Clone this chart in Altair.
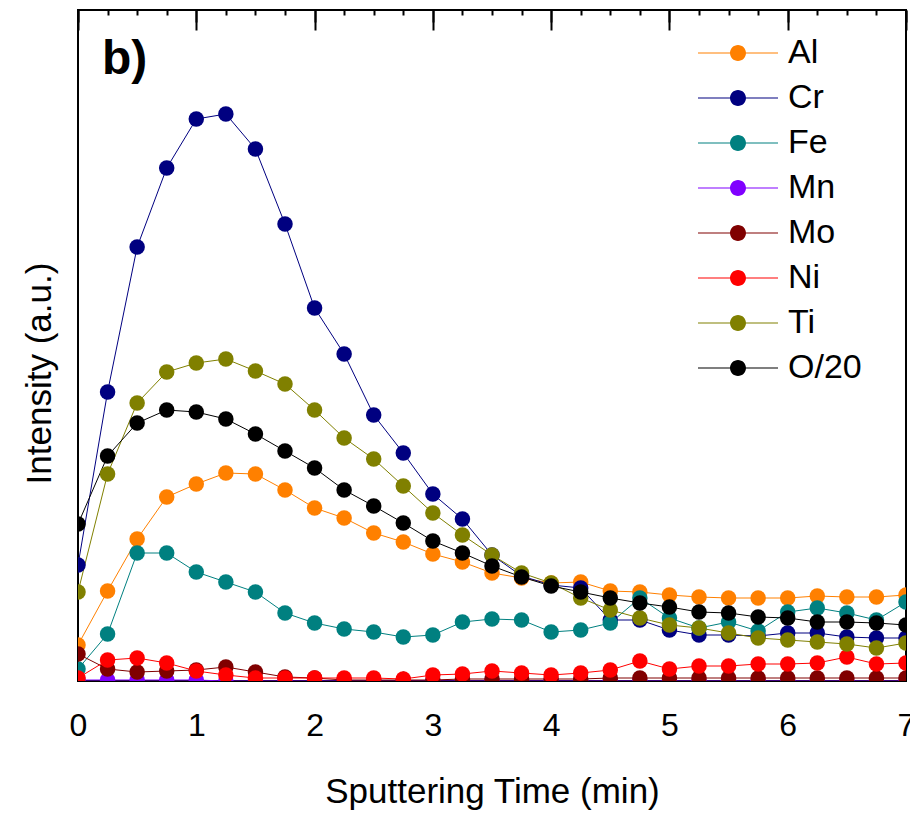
import altair as alt
import pandas as pd

# ---- data ----
time_min = [0, 0.25, 0.5, 0.75, 1, 1.25, 1.5, 1.75, 2, 2.25, 2.5, 2.75, 3, 3.25,
            3.5, 3.75, 4, 4.25, 4.5, 4.75, 5, 5.25, 5.5, 5.75, 6, 6.25, 6.5, 6.75, 7]

elements = ["Al", "Cr", "Fe", "Mn", "Mo", "Ni", "Ti", "O/20"]
colors = ["#FF8000", "#000080", "#008080", "#8000FF", "#800000", "#FF0000", "#808000", "#000000"]

al = [36, 90, 142, 184, 197, 208, 207, 191, 173, 163, 148, 139, 127, 119, 108,
      103, 98, 99, 90, 89, 86, 84, 83, 83, 83, 85, 84, 84, 86]
cr = [116, 289, 434, 513, 562, 567, 532, 457, 373, 327, 266, 228, 187, 162, 126,
      105, 96, 93, 61, 61, 51, 46, 46, 45, 48, 48, 44, 43, 43]
fe = [12, 47, 128, 128, 109, 99, 89, 68, 58, 52, 49, 44, 46, 59, 62,
      61, 49, 51, 58, 83, 63, 53, 59, 50, 69, 73, 68, 61, 79]
mn = [1, 1, 1, 1, 1, 0, 0, 0, 0, 0, 0, 0, 0, 0, 0,
      0, 0, 0, 0, 0, 0, 0, 0, 0, 0, 0, 0, 0, 0]
mo = [27, 12, 9, 10, 11, 14, 9, 4, 3, 1, 1, 1, 1, 2, 2,
      2, 2, 2, 3, 3, 3, 3, 3, 3, 3, 3, 3, 3, 3]
ni = [3, 21, 23, 18, 10, 6, 3, 3, 3, 3, 3, 2, 6, 7, 10,
      8, 6, 8, 11, 20, 12, 15, 15, 17, 17, 18, 24, 17, 18]
ti = [89, 207, 278, 309, 318, 322, 310, 297, 271, 243, 222, 195, 168, 146, 126,
      108, 98, 83, 71, 63, 56, 53, 48, 43, 41, 39, 37, 33, 38]
o20 = [157, 225, 258, 271, 269, 262, 247, 230, 213, 191, 175, 158, 140, 128, 115,
       104, 95, 89, 83, 78, 74, 69, 68, 64, 63, 59, 59, 58, 56]

major_ticks = [0, 1, 2, 3, 4, 5, 6, 7]
minor_ticks = [0.25, 0.5, 0.75, 1.25, 1.5, 1.75, 2.25, 2.5, 2.75, 3.25, 3.5, 3.75,
               4.25, 4.5, 4.75, 5.25, 5.5, 5.75, 6.25, 6.5, 6.75]

panel_label = ["b)"]

series = {"Al": al, "Cr": cr, "Fe": fe, "Mn": mn, "Mo": mo, "Ni": ni, "Ti": ti, "O/20": o20}
rows = []
for k, name in enumerate(elements):
    for t, v in zip(time_min, series[name]):
        rows.append({"Time": t, "Intensity": v, "Element": name, "Order": k})
df = pd.DataFrame(rows)

FONT = "Liberation Sans"

xs = alt.Scale(domain=[0, 7], nice=False, zero=False)
ys = alt.Scale(domain=[0, 671], nice=False, zero=False)

y_enc = alt.Y(
    "Intensity:Q", scale=ys,
    axis=alt.Axis(title="Intensity (a.u.)", labels=False, ticks=False, domain=False, grid=False,
                  titleFontSize=35, titleFontWeight="normal", titleFont=FONT, titleColor="black",
                  titleX=-28, titleY=363, titleBaseline="alphabetic"),
)

legend_symbol = "M-5,-0.07H5V0.07H-5Z M1,0A1,1 0 1,1 -1,0A1,1 0 1,1 1,0Z"

legend = alt.Legend(title=None, orient="none", legendX=643, legendY=26, padding=0,
                    symbolType=legend_symbol, symbolSize=256, symbolStrokeWidth=0,
                    labelFontSize=34, labelFont=FONT, labelColor="black", labelOffset=33,
                    rowPadding=11)
color_scale = alt.Scale(domain=elements, range=colors)

color_pts = alt.Color("Element:N", scale=color_scale, sort=elements, legend=legend)
color_lines = alt.Color("Element:N", scale=color_scale, sort=elements, legend=legend)

base = alt.Chart(df)

lines = base.mark_line(strokeWidth=1, clip=True).encode(
    x=alt.X("Time:Q", scale=xs,
            axis=alt.Axis(title="Sputtering Time (min)", values=major_ticks, format="d",
                          ticks=False, tickSize=0, domain=False, grid=False,
                          labelFontSize=32, labelFont=FONT, labelColor="black",
                          labelFlush=False, labelOverlap=False,
                          labelBaseline="alphabetic", labelPadding=54,
                          titleFontSize=35, titleFontWeight="normal", titleFont=FONT,
                          titleColor="black", titleY=121, titleBaseline="alphabetic")),
    y=y_enc,
    color=color_lines,
    detail="Element:N",
)

points = base.mark_circle(size=240, opacity=1, clip=True).encode(
    x=alt.X("Time:Q", scale=xs,
            axis=alt.Axis(title=None, values=major_ticks, labels=False, domain=False, grid=False,
                          ticks=True, tickSize=20, tickWidth=2, tickColor="black", offset=-20)),
    y=y_enc,
    color=color_pts,
    order=alt.Order("Order:Q"),
)

def tick_layer(values, size, orient):
    return base.mark_point(opacity=0).encode(
        x=alt.X("Time:Q", scale=xs,
                axis=alt.Axis(title=None, values=values, labels=False, domain=False, grid=False,
                              ticks=True, tickSize=size, tickWidth=2, tickColor="black",
                              offset=-size, orient=orient)),
        y=y_enc,
    )

label_layer = alt.Chart(pd.DataFrame({"label": panel_label})).mark_text(
    fontSize=48, fontWeight="bold", font=FONT, color="black", align="left",
    baseline="alphabetic"
).encode(text="label:N", x=alt.value(24), y=alt.value(64))

chart = alt.layer(
    lines,
    points,
    tick_layer(minor_ticks, 10, "bottom"),
    tick_layer(major_ticks, 12, "top"),
    tick_layer(minor_ticks, 5, "top"),
    label_layer,
).resolve_axis(x="independent").properties(
    width=828,
    height=671,
    autosize=alt.AutoSizeParams(type="none"),
    padding={"left": 78, "top": 10, "right": 4, "bottom": 133},
).configure(
    font=FONT, background="white"
).configure_view(
    stroke="black", strokeWidth=2
)

chart.save("out.html", embed_options={"renderer": "svg", "actions": False})
